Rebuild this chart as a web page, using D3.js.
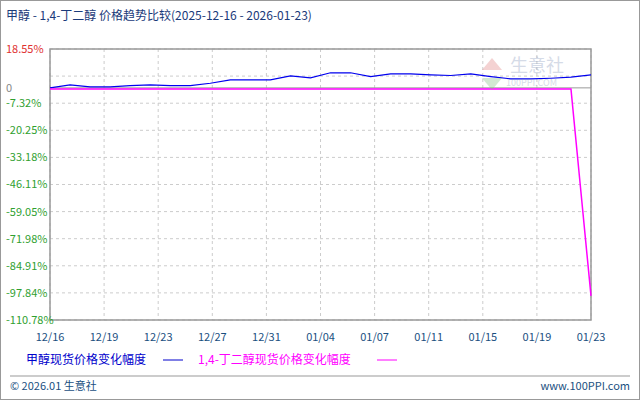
<!DOCTYPE html><html><head><meta charset="utf-8">
<script src="https://cdn.jsdelivr.net/npm/d3@7"></script>
<style>body{margin:0;background:#fff}svg{font-family:"Noto Sans CJK SC","DejaVu Sans",sans-serif}</style></head><body>
<svg id="c" width="640" height="400"></svg>
<script>
const xLabels=["12/16","12/19","12/23","12/27","12/31","01/04","01/07","01/11","01/15","01/19","01/23"];
const yTicks=[18.55,5.62,-7.32,-20.25,-33.18,-46.11,-59.05,-71.98,-84.91,-97.84,-110.78];
const yLabels=["18.55%","","-7.32%","-20.25%","-33.18%","-46.11%","-59.05%","-71.98%","-84.91%","-97.84%","-110.78%"];
const methanol=[0,1.4,0.5,0.5,1.1,1.4,1.1,1.1,2.2,3.8,3.8,3.8,5.7,4.8,7.2,7.2,5.4,6.7,6.7,6.2,5.9,6.7,5.4,4.3,4.3,4.6,5.1,6.2];
const bdo=[-0.5,-0.5,-0.5,-0.5,-0.5,-0.5,-0.5,-0.5,-0.5,-0.5,-0.5,-0.5,-0.5,-0.5,-0.5,-0.5,-0.5,-0.5,-0.5,-0.5,-0.5,-0.5,-0.5,-0.5,-0.5,-0.5,-0.5,-99.3];
const svg=d3.select("#c");
const L=50,R=591,T=49,B=320,N=methanol.length;
const x=d3.scaleLinear().domain([0,N-1]).range([L,R]);
const xl=d3.scaleLinear().domain([0,xLabels.length-1]).range([L,R]);
const y=d3.scaleLinear().domain([-110.78,18.55]).range([B,T]);
svg.append("rect").attr("x",0.5).attr("y",0.5).attr("width",639).attr("height",399).attr("fill","none").attr("stroke","#999");
svg.append("text").attr("x",6).attr("y",20).attr("font-size",12).attr("fill","#1a3a7a").text("甲醇 - 1,4-丁二醇 价格趋势比较(2025-12-16 - 2026-01-23)");
const g=svg.append("g");
yTicks.forEach(v=>g.append("line").attr("x1",L).attr("x2",R).attr("y1",y(v)).attr("y2",y(v)).attr("stroke","#ccc").attr("stroke-dasharray","3,3"));
xLabels.forEach((d,i)=>g.append("line").attr("x1",xl(i)).attr("x2",xl(i)).attr("y1",T).attr("y2",B).attr("stroke","#ccc").attr("stroke-dasharray","3,3"));
g.append("line").attr("x1",L).attr("x2",R).attr("y1",y(0)).attr("y2",y(0)).attr("stroke","#999");
g.append("rect").attr("x",L).attr("y",T).attr("width",R-L).attr("height",B-T).attr("fill","none").attr("stroke","#999").attr("stroke-width",1.5);
const wm=svg.append("g").attr("opacity",0.35);
wm.append("text").attr("x",510).attr("y",72).attr("font-size",18).attr("fill","#8899bb").text("生意社");
wm.append("text").attr("x",506).attr("y",86).attr("font-size",9).attr("fill","#8899bb").text("100PPI.COM");
wm.append("path").attr("d","M482,70 L492,58 L502,70Z").attr("fill","#e08080");
wm.append("path").attr("d","M482,78 L502,78 L492,90Z").attr("fill","#80c080");
yTicks.forEach((v,i)=>{svg.append("text").attr("x",6).attr("y",y(v)+4).attr("font-size",11)
 .attr("fill",v>0?"#e03030":"#30a030").text(yLabels[i]);});
svg.append("text").attr("x",6).attr("y",y(0)+4).attr("font-size",11).attr("fill","#888").text("0");
xLabels.forEach((d,i)=>svg.append("text").attr("x",xl(i)).attr("y",341).attr("text-anchor","middle").attr("font-size",11).attr("fill","#1a4f7f").text(d));
const line=d3.line().x((d,i)=>x(i)).y(d=>y(d));
g.append("path").datum(methanol).attr("d",line).attr("fill","none").attr("stroke","#0000ee").attr("stroke-width",1.2);
g.append("path").datum(bdo).attr("d",line).attr("fill","none").attr("stroke","#ff00ff").attr("stroke-width",1.5);
svg.append("text").attr("x",26).attr("y",364).attr("font-size",12).attr("fill","#0000cc").text("甲醇现货价格变化幅度");
svg.append("line").attr("x1",163).attr("x2",183).attr("y1",360).attr("y2",360).attr("stroke","#0000cc");
svg.append("text").attr("x",198).attr("y",364).attr("font-size",12).attr("fill","#ff00ff").text("1,4-丁二醇现货价格变化幅度");
svg.append("line").attr("x1",377).attr("x2",397).attr("y1",360).attr("y2",360).attr("stroke","#ff00ff");
svg.append("line").attr("x1",10).attr("x2",630).attr("y1",376).attr("y2",376).attr("stroke","#999");
svg.append("text").attr("x",10).attr("y",390).attr("font-size",11).attr("fill","#1a4f7f").text("© 2026.01 生意社");
svg.append("text").attr("x",630).attr("y",390).attr("text-anchor","end").attr("font-size",11).attr("fill","#1a4f7f").text("www.100PPI.com");
</script></body></html>
